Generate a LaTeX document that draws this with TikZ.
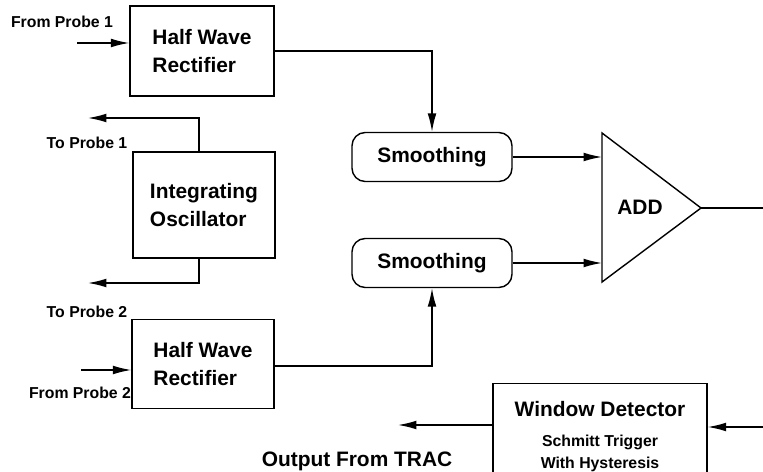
\documentclass[tikz,border=0pt]{standalone}
\usepackage{fontspec}
\setmainfont{Liberation Sans}
\usetikzlibrary{arrows.meta}

\begin{document}
\begin{tikzpicture}[thick, x=0.02cm, y=-0.02cm,
    font=\bfseries\fontsize{11.9}{16}\selectfont,
    block/.style={draw, align=left, inner sep=0pt},
    smoothbox/.style={draw, rounded corners=7.5pt, inner sep=0pt,
        minimum width=3.2cm, minimum height=0.98cm},
    lbl/.style={font=\bfseries\fontsize{9}{11}\selectfont},
    arr/.style={-{Latex[length=10.5pt,width=5pt]}}]
    \clip (0,0) rectangle (763,472);

    \node[block, minimum width=2.88cm, minimum height=1.8cm] (hwrA) at (202,51) {Half Wave\\Rectifier};
    \node[block, minimum width=2.84cm, minimum height=2.12cm] (osc) at (204,205) {Integrating\\Oscillator};
    \node[block, minimum width=2.84cm, minimum height=1.78cm] (hwrB) at (203,364) {Half Wave\\Rectifier};

    \node[smoothbox] (smA) at (432,157) {Smoothing};
    \node[smoothbox] (smB) at (432,263) {Smoothing};

    \draw (602,133) -- (701,208) -- (602,282) -- cycle;
    \coordinate (addA) at (602,158);
    \coordinate (addB) at (602,263);
    \coordinate (addOut) at (701,208);
    \coordinate (outAdd) at (763,208);
    \node (add) at (640,207) {ADD};

    \node[block, align=center, anchor=north, minimum width=4.28cm, minimum height=2.12cm] (winDet) at (600,383)
        {Window Detector\\[1pt]{\fontsize{9}{12.5}\selectfont Schmitt Trigger}\\[-3.5pt]{\fontsize{9}{12.5}\selectfont With Hysteresis}};

    \node[lbl] (fromA) at (62,22) {From Probe 1};
    \node[lbl] (toAL) at (87,143) {To Probe 1};
    \node[lbl] (toBL) at (87,312) {To Probe 2};
    \node[lbl] (fromB) at (80,393) {From Probe 2};
    \node (trac) at (357,461) {Output From TRAC};

    \coordinate (inA) at (77,43);
    \coordinate (toA) at (88,118);
    \coordinate (toB) at (88,283);
    \coordinate (inB) at (81,370);
    \coordinate (inW) at (763,427);
    \coordinate (outW) at (398,425);

    \draw[arr] (inA) -- (inA -| hwrA.west);
    \draw[arr] (hwrA.east) -| (smA.north);
    \draw[arr] ([xshift=-0.1cm]osc.north) |- (toA);
    \draw[arr] ([xshift=-0.1cm]osc.south) |- (toB);
    \draw[arr] (inB) -- (inB -| hwrB.west);
    \draw[arr] ([yshift=-0.04cm]hwrB.east) -| (smB.south);
    \draw[arr] (smA.east) -- (smA.east -| addA);
    \draw[arr] (smB.east) -- (smB.east -| addB);
    \draw (addOut) -- (outAdd);
    \draw[arr] (inW) -- (inW -| winDet.east);
    \draw[arr] (outW -| winDet.west) -- (outW);
\end{tikzpicture}
\end{document}
